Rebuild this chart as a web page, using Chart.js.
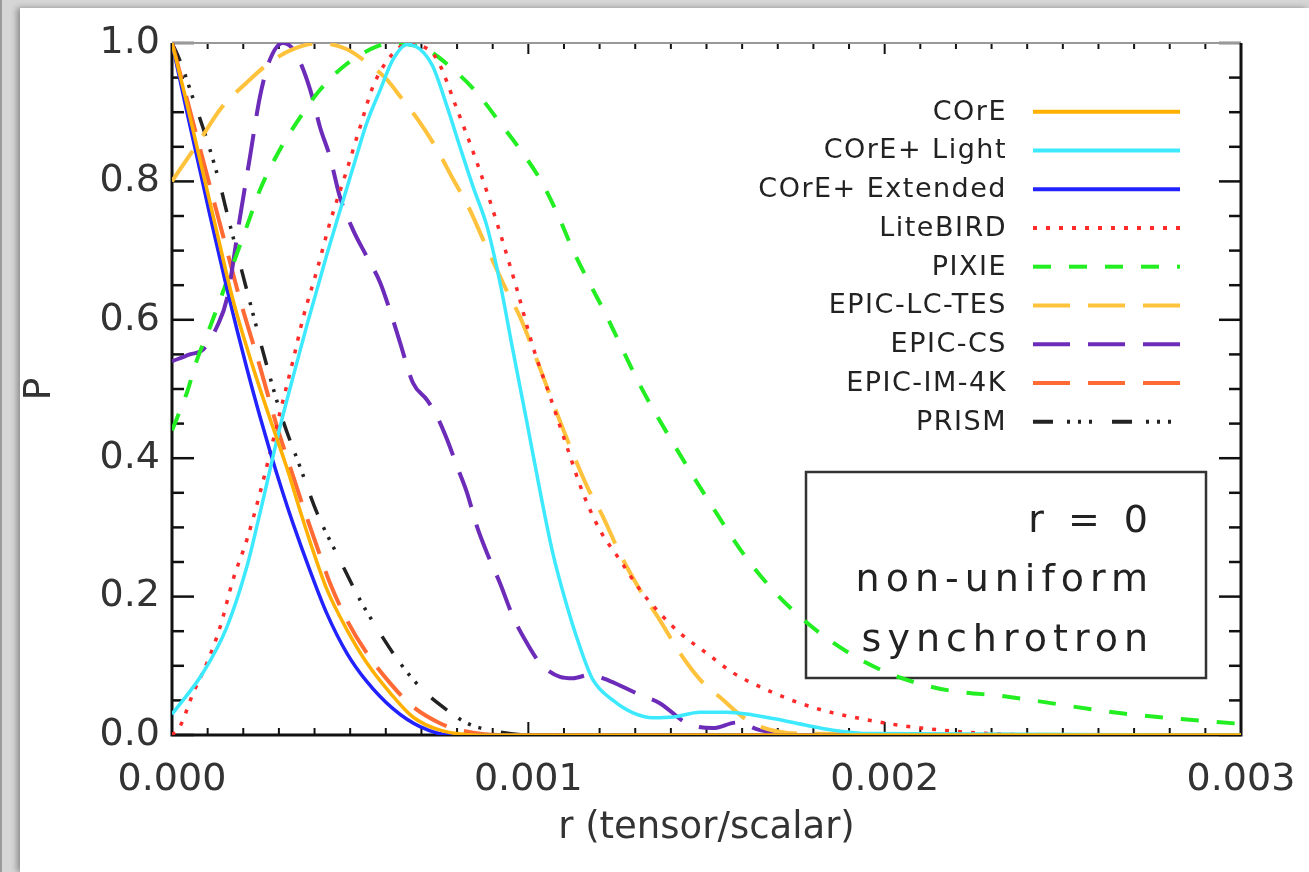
<!DOCTYPE html>
<html>
<head>
<meta charset="utf-8">
<script src="https://cdn.jsdelivr.net/npm/chart.js@4.4.0/dist/chart.umd.min.js"></script>
<style>
  html, body { margin: 0; padding: 0; }
  body { width: 1309px; height: 872px; overflow: hidden; background: #d6d6d6; position: relative; }
  #edge { position: absolute; left: 0; top: 0; width: 2px; height: 872px; background: #9a9a9a; }
  #panel { position: absolute; left: 20px; top: 8px; right: 0; bottom: 0; background: #fff;
           box-shadow: -3px 0 6px rgba(0, 0, 0, 0.35); }
  #c { position: absolute; left: 0; top: 0; }
</style>
</head>
<body>
<div id="edge"></div>
<div id="panel"></div>
<canvas id="c" width="1309" height="872"></canvas>
<script>
// likelihood P(r) for each experiment, r = tensor/scalar
const coreR = [0, 0.000036, 0.000079, 0.00012, 0.000171, 0.000227, 0.000283, 0.000323, 0.000359, 0.000396, 0.000435, 0.000491, 0.000547, 0.000612, 0.000676, 0.000752, 0.000864, 0.003];
const coreP = [1.0, 0.925, 0.83, 0.74, 0.629, 0.532, 0.445, 0.385, 0.325, 0.266, 0.21, 0.152, 0.104, 0.061, 0.026, 0.007, 0, 0];

const lightR = [0, 0.000087, 0.000154, 0.00021, 0.000247, 0.000303, 0.00034, 0.000379, 0.000435, 0.000471, 0.000508, 0.000547, 0.000584, 0.00062, 0.00066, 0.000696, 0.000732, 0.000772, 0.000808, 0.000845, 0.000884, 0.00092, 0.000957, 0.000996, 0.001033, 0.001069, 0.001108, 0.001145, 0.001181, 0.001238, 0.001294, 0.00135, 0.001406, 0.001482, 0.001557, 0.00163, 0.001706, 0.00178, 0.001855, 0.00196, 0.003];
const lightP = [0.03, 0.09, 0.156, 0.243, 0.321, 0.445, 0.518, 0.593, 0.695, 0.757, 0.82, 0.885, 0.932, 0.976, 0.998, 0.991, 0.966, 0.908, 0.85, 0.792, 0.735, 0.655, 0.555, 0.452, 0.352, 0.262, 0.187, 0.127, 0.08, 0.05, 0.032, 0.025, 0.026, 0.033, 0.033, 0.029, 0.022, 0.014, 0.007, 0.002, 0];

const extR = [0, 0.000042, 0.000079, 0.000107, 0.000154, 0.00021, 0.000247, 0.000275, 0.000311, 0.00034, 0.000387, 0.000435, 0.000491, 0.000547, 0.00062, 0.000696, 0.00078, 0.003];
const extP = [1.0, 0.90, 0.815, 0.75, 0.645, 0.53, 0.46, 0.41, 0.35, 0.305, 0.238, 0.175, 0.118, 0.077, 0.038, 0.012, 0, 0];

const liteR = [0, 0.000022, 0.000059, 0.000098, 0.000135, 0.000171, 0.00021, 0.000247, 0.000303, 0.00034, 0.000368, 0.000407, 0.000443, 0.000491, 0.000528, 0.000564, 0.000612, 0.00066, 0.000704, 0.000744, 0.0008, 0.000856, 0.000912, 0.000968, 0.001013, 0.001061, 0.001108, 0.001153, 0.001201, 0.001257, 0.001313, 0.001369, 0.001426, 0.001501, 0.001574, 0.00167, 0.001762, 0.001855, 0.00195, 0.002043, 0.00223, 0.00246, 0.003];
const liteP = [0.0, 0.012, 0.06, 0.104, 0.156, 0.224, 0.282, 0.35, 0.466, 0.542, 0.603, 0.672, 0.74, 0.817, 0.879, 0.937, 0.98, 0.998, 0.995, 0.976, 0.904, 0.827, 0.74, 0.644, 0.561, 0.489, 0.417, 0.35, 0.296, 0.253, 0.21, 0.176, 0.147, 0.118, 0.09, 0.065, 0.046, 0.032, 0.022, 0.014, 0.004, 0, 0];

const pixieR = [0, 0.000042, 0.00007, 0.000107, 0.000135, 0.000219, 0.000247, 0.000303, 0.000351, 0.000415, 0.000491, 0.000575, 0.00062, 0.000716, 0.00078, 0.000856, 0.00092, 0.000977, 0.001033, 0.00108, 0.001125, 0.00122, 0.00132, 0.001406, 0.00151, 0.001622, 0.001762, 0.00195, 0.002136, 0.00235, 0.00267, 0.003];
const pixieP = [0.44, 0.495, 0.542, 0.59, 0.629, 0.748, 0.788, 0.846, 0.886, 0.932, 0.97, 0.995, 1.0, 0.99, 0.966, 0.928, 0.885, 0.846, 0.803, 0.755, 0.701, 0.605, 0.499, 0.422, 0.335, 0.249, 0.171, 0.104, 0.069, 0.055, 0.031, 0.016];

const lctesR = [0, 0.000022, 0.000079, 0.000135, 0.00021, 0.000275, 0.00034, 0.000415, 0.000491, 0.000536, 0.000603, 0.00064, 0.000696, 0.000744, 0.000789, 0.000836, 0.000873, 0.000912, 0.000948, 0.000976, 0.001024, 0.001069, 0.001117, 0.001165, 0.00121, 0.001257, 0.001313, 0.001369, 0.001426, 0.001482, 0.001546, 0.001602, 0.00165, 0.00176, 0.003];
const lctesP = [0.8, 0.817, 0.86, 0.904, 0.943, 0.972, 0.991, 1.0, 0.991, 0.976, 0.947, 0.923, 0.885, 0.846, 0.803, 0.759, 0.716, 0.672, 0.633, 0.605, 0.542, 0.48, 0.417, 0.359, 0.315, 0.262, 0.21, 0.166, 0.118, 0.08, 0.051, 0.026, 0.012, 0.002, 0];

const csR = [0, 0.00005, 0.000087, 0.000126, 0.000154, 0.000191, 0.000219, 0.000247, 0.000275, 0.000311, 0.00034, 0.000368, 0.000396, 0.000415, 0.000443, 0.000471, 0.000508, 0.000547, 0.000584, 0.00062, 0.00064, 0.000676, 0.000716, 0.000744, 0.000772, 0.0008, 0.000828, 0.000856, 0.000884, 0.00092, 0.000957, 0.000996, 0.001033, 0.001089, 0.001125, 0.001173, 0.001229, 0.001313, 0.001369, 0.001445, 0.001518, 0.001585, 0.00165, 0.00176, 0.003];
const csP = [0.54, 0.55, 0.557, 0.59, 0.63, 0.749, 0.836, 0.923, 0.976, 1.0, 0.991, 0.962, 0.918, 0.879, 0.836, 0.778, 0.73, 0.691, 0.654, 0.6, 0.567, 0.509, 0.484, 0.46, 0.427, 0.388, 0.35, 0.301, 0.263, 0.22, 0.171, 0.133, 0.104, 0.084, 0.082, 0.087, 0.078, 0.058, 0.046, 0.017, 0.01, 0.018, 0.007, 0, 0];

const im4kR = [0, 0.000031, 0.00007, 0.000107, 0.000143, 0.000191, 0.000247, 0.000295, 0.000331, 0.000368, 0.000407, 0.000443, 0.000491, 0.000547, 0.000612, 0.000676, 0.000752, 0.000808, 0.00092, 0.003];
const im4kP = [1.0, 0.94, 0.864, 0.792, 0.722, 0.629, 0.532, 0.445, 0.388, 0.33, 0.272, 0.22, 0.166, 0.118, 0.075, 0.041, 0.017, 0.007, 0, 0];

const prismR = [0, 0.000022, 0.000059, 0.000098, 0.000135, 0.000154, 0.000219, 0.000267, 0.000311, 0.000359, 0.000407, 0.000471, 0.000528, 0.000584, 0.00064, 0.000704, 0.000772, 0.000828, 0.000892, 0.001, 0.003];
const prismP = [1.0, 0.975, 0.92, 0.86, 0.795, 0.755, 0.625, 0.532, 0.455, 0.388, 0.321, 0.253, 0.195, 0.147, 0.104, 0.065, 0.036, 0.017, 0.007, 0, 0];

const names = ['COrE', 'COrE+ Light', 'COrE+ Extended', 'LiteBIRD', 'PIXIE', 'EPIC-LC-TES', 'EPIC-CS', 'EPIC-IM-4K', 'PRISM'];
const series = [[coreR, coreP], [lightR, lightP], [extR, extP], [liteR, liteP], [pixieR, pixieP],
                [lctesR, lctesP], [csR, csP], [im4kR, im4kP], [prismR, prismP]];

const xTicks = [0, 0.001, 0.002, 0.003];
const yTicks = [0, 0.2, 0.4, 0.6, 0.8, 1.0];
const note = ['r = 0', 'non-uniform', 'synchrotron'];

// line styles, same order as names
const styles = [
  { color: '#ffb000', width: 3.5, dash: [] },
  { color: '#3ce9ff', width: 3.5, dash: [] },
  { color: '#2222ff', width: 3.5, dash: [] },
  { color: '#ff2a2a', width: 3.5, dash: [4, 9] },
  { color: '#22ee22', width: 4, dash: [18, 18] },
  { color: '#ffc23c', width: 4, dash: [37, 18] },
  { color: '#6c2bb8', width: 4, dash: [37, 18] },
  { color: '#ff6a35', width: 4, dash: [37, 18] },
  { color: '#222222', width: 3.5, dash: [20, 14, 3, 8, 3, 8, 3, 20] }
];

const datasets = names.map((name, i) => ({
  label: name,
  data: series[i][0].map((r, j) => ({ x: r, y: series[i][1][j] })),
  borderColor: styles[i].color,
  borderWidth: styles[i].width,
  borderDash: styles[i].dash,
  borderCapStyle: 'butt',
  cubicInterpolationMode: 'monotone',
  pointRadius: 0,
  fill: false
}));

// IDL style box: ticks point inward on all four sides
const frame = {
  id: 'frame',
  beforeDatasetsDraw(chart) {
    const { ctx, chartArea: a, scales: { x, y } } = chart;
    const seg = (x0, y0, x1, y1) => { ctx.beginPath(); ctx.moveTo(x0, y0); ctx.lineTo(x1, y1); ctx.stroke(); };
    ctx.save();
    ctx.strokeStyle = '#111';
    ctx.lineWidth = 2;
    for (let k = 0; k <= 30; k++) {
      const px = x.getPixelForValue(k * 0.0001);
      const major = k % 10 === 0;
      seg(px, a.bottom, px, a.bottom - (major ? 13 : 7));
      seg(px, a.top, px, a.top + (major ? 11 : 6));
    }
    ctx.lineWidth = 2.5;
    for (let k = 0; k <= 20; k++) {
      const py = y.getPixelForValue(k * 0.05);
      const len = k % 4 === 0 ? 22 : 12;
      seg(a.left, py, a.left + len, py);
      seg(a.right, py, a.right - len, py);
    }
    ctx.strokeStyle = '#999';
    ctx.lineWidth = 2;
    seg(a.left, a.top, a.right, a.top);
    ctx.strokeStyle = '#111';
    ctx.lineWidth = 3;
    ctx.beginPath();
    ctx.moveTo(a.left, a.top);
    ctx.lineTo(a.left, a.bottom);
    ctx.lineTo(a.right, a.bottom);
    ctx.lineTo(a.right, a.top);
    ctx.stroke();

    // label box
    ctx.strokeStyle = '#333';
    ctx.lineWidth = 2.5;
    ctx.strokeRect(a.left + 634, a.top + 429, 400, 206);
    ctx.fillStyle = '#222';
    ctx.font = '38px "DejaVu Sans"';
    ctx.letterSpacing = '6px';
    ctx.textAlign = 'right';
    ctx.textBaseline = 'alphabetic';
    const base = [489, 548, 608];
    note.forEach((t, i) => ctx.fillText(t, a.left + 982, a.top + base[i]));
    ctx.restore();
  }
};

// legend inside the plot: label on the left, line sample on the right
const plotLegend = {
  id: 'plotLegend',
  afterDatasetsDraw(chart) {
    const { ctx, chartArea: a } = chart;
    ctx.save();
    ctx.font = '27px "DejaVu Sans"';
    ctx.letterSpacing = '1.5px';
    ctx.textAlign = 'right';
    ctx.textBaseline = 'middle';
    chart.data.datasets.forEach((ds, i) => {
      const yy = a.top + 68.7 + i * 38.75;
      ctx.fillStyle = '#222';
      ctx.fillText(ds.label, a.left + 835, yy + 1);
      ctx.setLineDash(ds.borderDash);
      ctx.lineCap = 'butt';
      ctx.strokeStyle = ds.borderColor;
      ctx.lineWidth = 4;
      ctx.beginPath();
      ctx.moveTo(a.left + 861, yy);
      ctx.lineTo(a.left + 1008, yy);
      ctx.stroke();
    });
    ctx.restore();
  }
};

Chart.defaults.font.family = '"DejaVu Sans", sans-serif';
Chart.defaults.color = '#333';

new Chart(document.getElementById('c'), {
  type: 'line',
  data: { datasets },
  options: {
    responsive: false,
    animation: false,
    devicePixelRatio: 1,
    layout: { padding: { top: 43, right: 68, left: 0, bottom: 0 } },
    plugins: { legend: { display: false }, tooltip: { enabled: false } },
    scales: {
      x: {
        type: 'linear',
        min: 0,
        max: 0.003,
        afterFit: s => { s.height = 137; s.paddingLeft = 0; s.paddingRight = 0; },
        afterBuildTicks: s => { s.ticks = xTicks.map(v => ({ value: v })); },
        grid: { display: false, drawTicks: false },
        border: { display: false },
        ticks: { padding: 22, font: { size: 38 }, maxRotation: 0, callback: v => v.toFixed(3) },
        title: { display: true, text: 'r (tensor/scalar)', font: { size: 37 }, padding: { top: 0, bottom: 21 } }
      },
      y: {
        type: 'linear',
        min: 0,
        max: 1.0,
        afterFit: s => { s.width = 172; s.paddingTop = 0; s.paddingBottom = 0; },
        afterBuildTicks: s => { s.ticks = yTicks.map(v => ({ value: v })); },
        grid: { display: false, drawTicks: false },
        border: { display: false },
        ticks: { padding: 12, font: { size: 38 }, callback: v => v.toFixed(1) },
        title: { display: true, text: 'P', font: { size: 38 }, padding: { top: 17, bottom: 0 } }
      }
    }
  },
  plugins: [frame, plotLegend]
});
</script>
</body>
</html>
